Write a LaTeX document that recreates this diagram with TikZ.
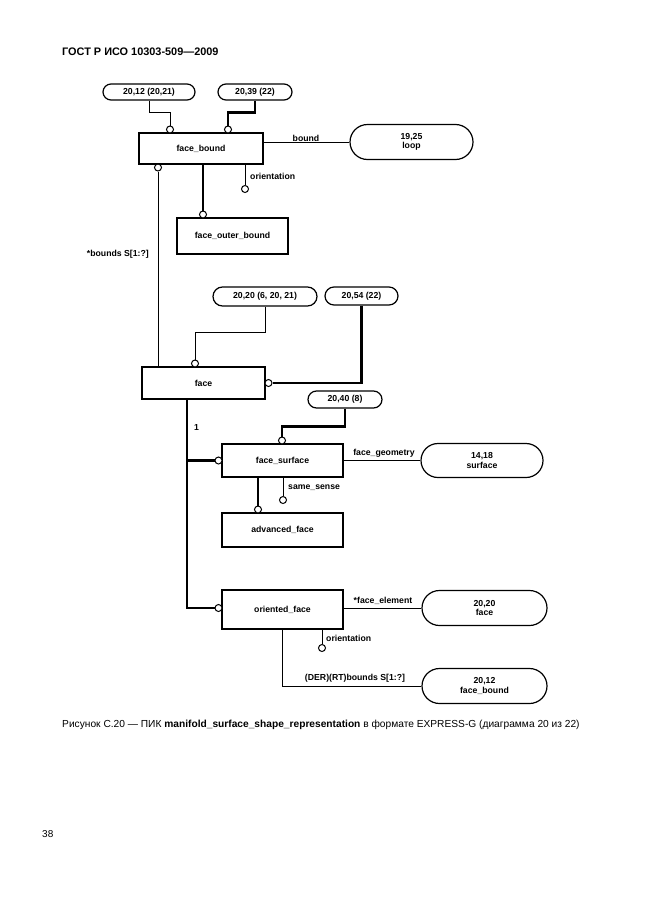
\documentclass[tikz,border=0pt]{standalone}
\usepackage{fontspec}
\setmainfont{Liberation Sans}
\usetikzlibrary{shapes.misc}
\begin{document}
\begin{tikzpicture}[x=1pt,y=-1pt,
  entity/.style={draw,line width=1.2pt,inner sep=0pt,font=\bfseries\fontsize{8.7}{9.5}\selectfont},
  typeref/.style={draw,rounded rectangle,line width=1.2pt,inner sep=0pt,align=center,font=\bfseries\fontsize{8.7}{9.5}\selectfont},
  ring/.style={draw,circle,fill=white,inner sep=0pt,minimum size=7pt,line width=1pt},
  attr/.style={line width=1pt},
  super/.style={line width=2.8pt},
  lbl/.style={inner sep=0pt,font=\bfseries\fontsize{8.7}{9.5}\selectfont}]

\useasboundingbox (0,0) rectangle (646,913);

\node[anchor=west,inner sep=0pt,font=\bfseries\fontsize{10.9}{12}\selectfont](header) at (62,52) {ГОСТ Р ИСО 10303-509—2009};

% face_bound
\node[typeref,minimum width=92,minimum height=16](ref 20 12) at (149,92) {20,12 (20,21)};
\node[typeref,minimum width=74,minimum height=16](ref 20 39) at (255,92) {20,39 (22)};
\node[entity,minimum width=124,minimum height=31](face bound) at (201,148.5) {face\_bound};
\node[typeref,minimum width=123,minimum height=35](loop) at (411.5,142) {19,25\\loop};

\node[ring](fb top a) at (170,129.5) {};
\node[ring](fb top b) at (228,129.5) {};
\node[ring](fb bounds) at (158,167.5) {};
\node[ring](fb orient) at (245,189) {};

\draw[attr] (ref 20 12.south) -- ++(0,12) -| (fb top a);
\draw[super] (ref 20 39.south) -- ++(0,12) -| (fb top b);
\draw[attr] (face bound.east |- loop) -- (loop);
\node[lbl](bound label) at (306,138) {bound};
\draw[attr] (fb orient |- face bound.south) -- (fb orient);
\node[lbl,anchor=west](fb orient label) at (250,176) {orientation};

\node[entity,minimum width=111,minimum height=36](face outer bound) at (232.5,236) {face\_outer\_bound};
\node[ring](fob ring) at (203,214.5) {};
\draw[super] (fob ring |- face bound.south) -- (fob ring);

% face
\node[typeref,minimum width=104,minimum height=19](ref 20 20) at (265,296.5) {20,20 (6, 20, 21)};
\node[typeref,minimum width=73,minimum height=18](ref 20 54) at (361.5,296) {20,54 (22)};
\node[entity,minimum width=123,minimum height=32](face) at (203.5,383) {face};
\node[ring](face top) at (195,363.5) {};
\node[ring](face right) at (268.5,383) {};

\draw[attr] (fb bounds) -- (fb bounds |- face.north);
\node[lbl,anchor=east](bounds label) at (149,254) {*bounds S[1:?]};
\draw[attr] (ref 20 20.south) -- ++(0,26) -| (face top);
\draw[super] (ref 20 54.south) |- (face right);

% face_surface
\node[typeref,minimum width=74,minimum height=17](ref 20 40) at (345,399.5) {20,40 (8)};
\node[entity,minimum width=121,minimum height=33](face surface) at (282.5,460.5) {face\_surface};
\node[typeref,minimum width=122,minimum height=34](surface) at (482,460.5) {14,18\\surface};
\node[ring](fs top) at (282,440.5) {};
\node[ring](fs left) at (218.5,460.5) {};
\node[ring](ss ring) at (283,500) {};

\draw[super] (ref 20 40.south) -- ++(0,18) -| (fs top);
\draw[attr] (face surface) -- (surface);
\node[lbl](geometry label) at (384,453) {face\_geometry};
\draw[attr] (ss ring |- face surface.south) -- (ss ring);
\node[lbl,anchor=west](ss label) at (288,488) {same\_sense};

\node[entity,minimum width=121,minimum height=34](advanced face) at (282.5,530) {advanced\_face};
\node[ring](af ring) at (258,509.5) {};
\draw[super] (af ring |- face surface.south) -- (af ring);

% oriented_face
\node[entity,minimum width=121,minimum height=39](oriented face) at (282.5,609.5) {oriented\_face};
\node[typeref,minimum width=125,minimum height=35](face ref) at (484.5,608) {20,20\\face};
\node[typeref,minimum width=125,minimum height=35](face bound ref) at (484.5,686) {20,12\\face\_bound};
\node[ring](of left) at (218.5,608) {};
\node[ring](of orient) at (322,648) {};

\coordinate (trunk) at (187,399);
\draw[super] (trunk) |- (of left);
\draw[super] (trunk |- fs left) -- (fs left);
\node[lbl,anchor=west](one label) at (194,428) {1};

\draw[attr] (oriented face.east |- face ref) -- (face ref);
\node[lbl](element label) at (383,601) {*face\_element};
\draw[attr] (of orient |- oriented face.south) -- (of orient);
\node[lbl,anchor=west](of orient label) at (326,638) {orientation};
\draw[attr] (oriented face.south) |- (face bound ref);
\node[lbl](derived label) at (355,678) {(DER)(RT)bounds S[1:?]};

\node[anchor=west,inner sep=0pt,font=\fontsize{10.2}{12}\selectfont](caption) at (62,725) {Рисунок С.20 — ПИК \textbf{manifold\_surface\_shape\_representation} в формате EXPRESS-G (диаграмма 20 из 22)};
\node[anchor=west,inner sep=0pt,font=\fontsize{10}{12}\selectfont](page) at (42,834) {38};

\end{tikzpicture}
\end{document}
